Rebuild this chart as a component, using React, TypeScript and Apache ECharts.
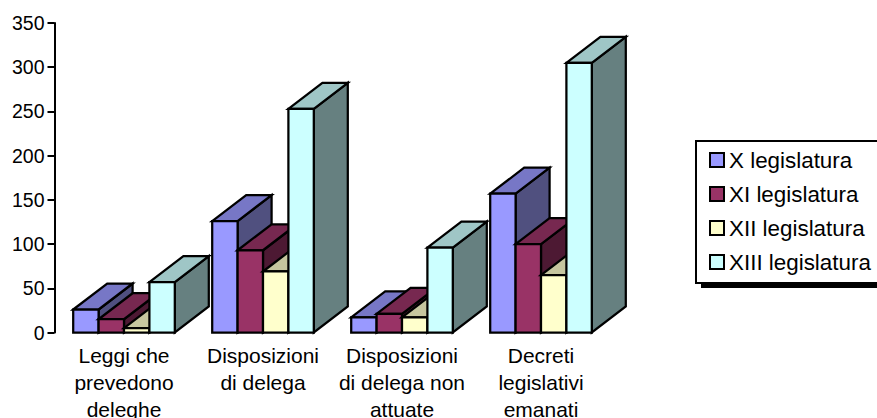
import React, { useEffect, useRef } from "react";
import * as echarts from "echarts";

const categories = [
  "Leggi che\nprevedono\ndeleghe",
  "Disposizioni\ndi delega",
  "Disposizioni\ndi delega non\nattuate",
  "Decreti\nlegislativi\nemanati",
];
const seriesNames = ["X legislatura", "XI legislatura", "XII legislatura", "XIII legislatura"];
const legislaturaX = [26, 126, 17, 157];
const legislaturaXI = [15, 93, 21, 100];
const legislaturaXII = [5, 69, 17, 65];
const legislaturaXIII = [57, 253, 96, 305];
const seriesValues = [legislaturaX, legislaturaXI, legislaturaXII, legislaturaXIII];
const frontColors = ["#9999FF", "#993366", "#FFFFCC", "#CCFFFF"];
const topColors = ["#7777C6", "#772850", "#C6C69F", "#9FC6C6"];
const sideColors = ["#50507F", "#4D1933", "#80806A", "#668080"];
const yTicks = { min: 0, max: 350, interval: 50 };

const FONT = "'Liberation Sans', Arial, sans-serif";
const DEPTH_X = 34;
const DEPTH_Y = 26;
const BAR_WIDTH = 25.4;

function renderBar(seriesIndex: number) {
  return (params: any, api: any) => {
    const [cx, y1] = api.coord([api.value(0), api.value(1)]);
    const [, y0] = api.coord([api.value(0), 0]);
    const x0 = cx - 2 * BAR_WIDTH + seriesIndex * BAR_WIDTH;
    const x1 = x0 + BAR_WIDTH;
    const stroke = { stroke: "#000", lineWidth: 2.25, lineJoin: "miter" };
    return {
      type: "group",
      children: [
        {
          type: "polygon",
          shape: { points: [[x1, y1], [x1 + DEPTH_X, y1 - DEPTH_Y], [x1 + DEPTH_X, y0 - DEPTH_Y], [x1, y0]] },
          style: { fill: sideColors[seriesIndex], ...stroke },
        },
        {
          type: "polygon",
          shape: { points: [[x0, y1], [x0 + DEPTH_X, y1 - DEPTH_Y], [x1 + DEPTH_X, y1 - DEPTH_Y], [x1, y1]] },
          style: { fill: topColors[seriesIndex], ...stroke },
        },
        {
          type: "rect",
          shape: { x: x0, y: y1, width: BAR_WIDTH, height: y0 - y1 },
          style: { fill: frontColors[seriesIndex], ...stroke },
        },
      ],
    };
  };
}

export default function App() {
  const ref = useRef<HTMLDivElement>(null);
  useEffect(() => {
    const chart = echarts.init(ref.current!, null, { renderer: "svg" });
    chart.setOption({
      animation: false,
      backgroundColor: "#fff",
      textStyle: { fontFamily: FONT },
      grid: { left: 54.5, top: 23, width: 556, height: 309.5, outerBoundsMode: "none" },
      xAxis: {
        type: "category",
        data: categories,
        axisLine: { show: false },
        axisTick: { show: false },
        axisLabel: {
          interval: 0,
          color: "#000",
          fontFamily: FONT,
          fontSize: 21,
          lineHeight: 27,
          margin: 9,
        },
      },
      yAxis: {
        type: "value",
        min: yTicks.min,
        max: yTicks.max,
        interval: yTicks.interval,
        splitLine: { show: false },
        axisLine: { show: true, lineStyle: { color: "#000", width: 2 } },
        axisTick: { show: true, length: 7, lineStyle: { color: "#000", width: 2 } },
        axisLabel: { color: "#000", fontFamily: FONT, fontSize: 19.5, margin: 10 },
      },
      legend: {
        orient: "vertical",
        left: 696,
        top: 141,
        width: 190,
        padding: [8, 60, 10, 13],
        itemGap: 12,
        itemWidth: 14,
        itemHeight: 14,
        backgroundColor: "#fff",
        borderColor: "#000",
        borderWidth: 2,
        icon: "rect",
        textStyle: { color: "#000", fontFamily: FONT, fontSize: 22.4 },
        data: seriesNames,
      },
      graphic: [
        {
          type: "rect",
          z: 0,
          shape: { x: 701, y: 146, width: 190, height: 142 },
          style: { fill: "#000" },
        },
      ],
      series: seriesNames.map((name, i) => ({
        type: "custom",
        name,
        coordinateSystem: "cartesian2d",
        renderItem: renderBar(i),
        encode: { x: 0, y: 1 },
        itemStyle: { color: frontColors[i], borderColor: "#000", borderWidth: 2.5 },
        data: seriesValues[i].map((v, c) => [c, v]),
        clip: false,
      })),
    });
    return () => chart.dispose();
  }, []);
  return <div ref={ref} style={{ position: "fixed", left: 0, top: 0, width: 877, height: 418 }} />;
}
